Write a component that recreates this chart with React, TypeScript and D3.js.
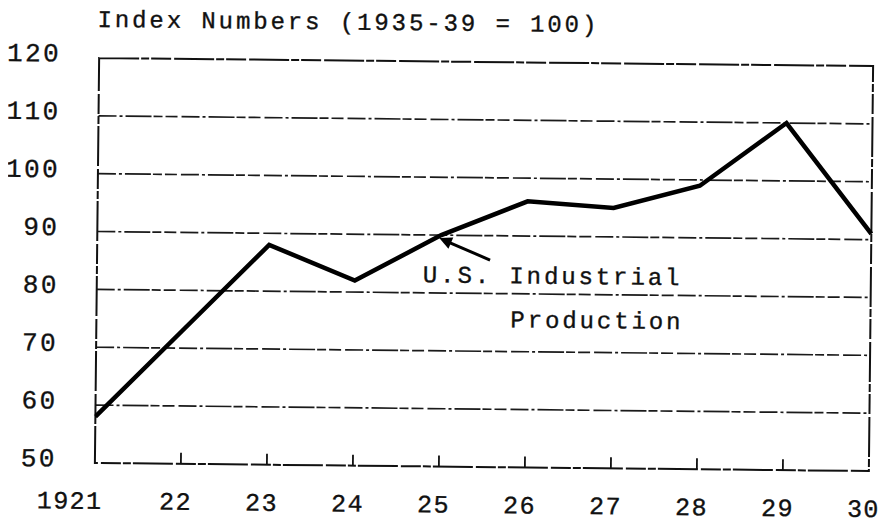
import React, { useEffect, useRef } from "react";
import * as d3 from "d3";

// U.S. industrial production, index numbers (1935-39 = 100)
const years = [1921, 1922, 1923, 1924, 1925, 1926, 1927, 1928, 1929, 1930];
const production = [58, 73, 88, 82, 90, 96, 95, 99, 110, 91];
const yTicks = [50, 60, 70, 80, 90, 100, 110, 120];
const xTickLabels = ["1921", "22", "23", "24", "25", "26", "27", "28", "29", "30"];
const title = "Index Numbers (1935-39 = 100)";
const annotation = ["U.S. Industrial", "Production"];

const FONT = "'Liberation Mono', 'DejaVu Sans Mono', monospace";

const App = () => {
  const svgRef = useRef<SVGSVGElement>(null);

  useEffect(() => {
    const width = 886;
    const height = 532;
    const frame = { left: 97, right: 871, top: 62, bottom: 467 };

    const svg = d3.select(svgRef.current);
    svg.selectAll("*").remove();
    svg.attr("width", width).attr("height", height);

    svg.append("rect").attr("width", width).attr("height", height).attr("fill", "#fff");

    // the typed sheet sits a little crooked
    const cx = (frame.left + frame.right) / 2;
    const cy = (frame.top + frame.bottom) / 2;
    const g = svg.append("g").attr("transform", `rotate(0.6, ${cx}, ${cy})`);

    const x = d3.scaleLinear()
      .domain([years[0], years[years.length - 1]])
      .range([frame.left, frame.right]);

    const y = d3.scaleLinear()
      .domain([50, 120])
      .range([frame.bottom, frame.top]);

    const typed = (sel: any, size: number, spacing: number) =>
      sel
        .attr("font-family", FONT)
        .attr("font-size", size)
        .attr("letter-spacing", spacing)
        .attr("fill", "#111")
        .attr("stroke", "#111")
        .attr("stroke-width", 0.35);

    // horizontal rules, dash-dot typed look
    g.append("g")
      .selectAll("line")
      .data(yTicks.slice(1, -1))
      .join("line")
      .attr("x1", x(years[0]))
      .attr("x2", x(years[years.length - 1]))
      .attr("y1", (d) => y(d))
      .attr("y2", (d) => y(d))
      .attr("stroke", "#1a1a1a")
      .attr("stroke-width", 1.7)
      .attr("stroke-dasharray", "18 3 3 3 26 2 9 3 12 4");

    // frame
    g.append("rect")
      .attr("x", frame.left)
      .attr("y", frame.top)
      .attr("width", frame.right - frame.left)
      .attr("height", frame.bottom - frame.top)
      .attr("fill", "none")
      .attr("stroke", "#111")
      .attr("stroke-width", 2)
      .attr("stroke-dasharray", "40 2 8 2 20 3");

    // little ticks standing on the bottom edge
    g.append("g")
      .selectAll("line")
      .data(years.slice(1, -1))
      .join("line")
      .attr("x1", (d) => x(d))
      .attr("x2", (d) => x(d))
      .attr("y1", y(50))
      .attr("y2", y(50) - 11)
      .attr("stroke", "#111")
      .attr("stroke-width", 1.8);

    // y labels
    typed(
      g.append("g")
        .selectAll("text")
        .data(yTicks)
        .join("text")
        .attr("x", 59)
        .attr("y", (d) => y(d) + 4)
        .attr("text-anchor", "end")
        .text((d) => d),
      26, 2.4
    );

    // x labels
    typed(
      g.append("g")
        .selectAll("text")
        .data(years)
        .join("text")
        .attr("x", (d, i) => (i === 0 ? x(d) + 8 : x(d) - 5))
        .attr("y", 513)
        .attr("text-anchor", (d, i) => (i === 0 ? "end" : "middle"))
        .text((d, i) => xTickLabels[i]),
      25, 1.4
    );

    // title
    typed(
      g.append("text").attr("x", 95).attr("y", 31).text(title),
      24, 2.9
    );

    // data line
    const line = d3.line<number>()
      .x((d, i) => x(years[i]))
      .y((d) => y(d));

    g.append("path")
      .datum(production)
      .attr("d", line)
      .attr("fill", "none")
      .attr("stroke", "#000")
      .attr("stroke-width", 4.5)
      .attr("stroke-linejoin", "miter");

    // annotation + arrow
    typed(g.append("text").attr("x", 423).attr("y", 283).text(annotation[0]), 24, 2.9);
    typed(g.append("text").attr("x", 511).attr("y", 327).text(annotation[1]), 24, 2.9);

    const tip: [number, number] = [x(1925) - 2, y(90) + 3];
    const tail: [number, number] = [490, 260];
    const ang = Math.atan2(tail[1] - tip[1], tail[0] - tip[0]);
    g.append("line")
      .attr("x1", tail[0]).attr("y1", tail[1])
      .attr("x2", tip[0] + 8 * Math.cos(ang)).attr("y2", tip[1] + 8 * Math.sin(ang))
      .attr("stroke", "#000")
      .attr("stroke-width", 3);
    const head = [0.45, -0.45].map((a) => [
      tip[0] + 14 * Math.cos(ang + a),
      tip[1] + 14 * Math.sin(ang + a),
    ]);
    g.append("path")
      .attr("d", `M${tip[0]},${tip[1]} L${head[0][0]},${head[0][1]} L${head[1][0]},${head[1][1]} Z`)
      .attr("fill", "#000");
  }, []);

  return <svg ref={svgRef} style={{ display: "block", margin: -8 }} />;
};

export default App;
